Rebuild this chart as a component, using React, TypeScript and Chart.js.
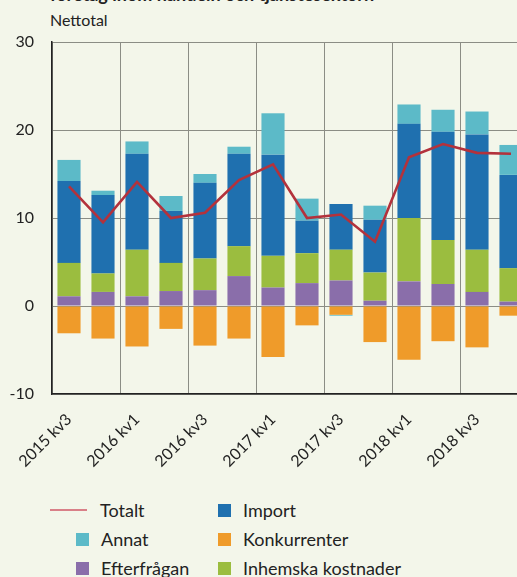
import React, { useEffect, useRef } from "react";
import { Chart, registerables } from "chart.js";

Chart.register(...registerables);

const categories = [
  "2015 kv3", "2015 kv4", "2016 kv1", "2016 kv2", "2016 kv3", "2016 kv4", "2017 kv1",
  "2017 kv2", "2017 kv3", "2017 kv4", "2018 kv1", "2018 kv2", "2018 kv3", "2018 kv4",
];
const efterfragan = [1.1, 1.6, 1.1, 1.7, 1.8, 3.4, 2.1, 2.6, 2.9, 0.6, 2.8, 2.5, 1.6, 0.5];
const inhemskaKostnader = [3.8, 2.1, 5.3, 3.2, 3.6, 3.4, 3.6, 3.4, 3.5, 3.2, 7.2, 5.0, 4.8, 3.8];
const importValues = [9.3, 8.9, 10.9, 5.9, 8.6, 10.5, 11.5, 3.7, 5.2, 6.0, 10.7, 12.3, 13.1, 10.6];
const konkurrenter = [-3.1, -3.7, -4.6, -2.6, -4.5, -3.7, -5.8, -2.2, -1.0, -4.1, -6.1, -4.0, -4.7, -1.1];
const annat = [2.4, 0.5, 1.4, 1.7, 1.0, 0.8, 4.7, 2.5, -0.1, 1.6, 2.2, 2.5, 2.6, 3.4];
const totalt = [13.6, 9.5, 14.1, 10.0, 10.6, 14.3, 16.1, 10.0, 10.4, 7.3, 16.9, 18.4, 17.4, 17.3];

const yMin = -10;
const yMax = 30;
const yStep = 10;

const BG = "#f3f6ea";
const C_PURPLE = "#8a6eaa";
const C_GREEN = "#9bbd3f";
const C_BLUE = "#1f70af";
const C_ORANGE = "#ef9b2a";
const C_CYAN = "#5cbac8";
const C_RED = "#b3323c";
const GRID = "#8b8d85";
const FONT = "Lato";

const legendItems = [
  { label: "Totalt", color: "#d98088", line: true, x: 50, y: 504 },
  { label: "Import", color: C_BLUE, line: false, x: 218, y: 504 },
  { label: "Annat", color: C_CYAN, line: false, x: 76, y: 533 },
  { label: "Konkurrenter", color: C_ORANGE, line: false, x: 218, y: 533 },
  { label: "Efterfrågan", color: C_PURPLE, line: false, x: 76, y: 562 },
  { label: "Inhemska kostnader", color: C_GREEN, line: false, x: 218, y: 562 },
];

export default function App() {
  const canvasRef = useRef<HTMLCanvasElement | null>(null);

  useEffect(() => {
    const canvas = canvasRef.current;
    if (!canvas) return;
    Chart.defaults.font.family = FONT;
    Chart.defaults.color = "#222";
    const barCommon = {
      type: "bar" as const,
      stack: "bars",
      barPercentage: 0.68,
      categoryPercentage: 1.0,
      borderWidth: 0,
      order: 2,
    };
    const chart = new Chart(canvas, {
      type: "bar",
      data: {
        labels: categories,
        datasets: [
          {
            type: "line" as const,
            label: "Totalt",
            data: totalt,
            borderColor: C_RED,
            backgroundColor: C_RED,
            borderWidth: 2.6,
            pointRadius: 0,
            tension: 0,
            stack: "line",
            order: 0,
          } as any,
          { ...barCommon, label: "Efterfrågan", data: efterfragan, backgroundColor: C_PURPLE },
          { ...barCommon, label: "Inhemska kostnader", data: inhemskaKostnader, backgroundColor: C_GREEN },
          { ...barCommon, label: "Import", data: importValues, backgroundColor: C_BLUE },
          { ...barCommon, label: "Konkurrenter", data: konkurrenter, backgroundColor: C_ORANGE },
          { ...barCommon, label: "Annat", data: annat, backgroundColor: C_CYAN },
        ],
      },
      options: {
        animation: false,
        responsive: false,
        maintainAspectRatio: false,
        layout: { padding: { top: 42, right: 32, left: 0, bottom: 0 } },
        plugins: {
          legend: { display: false },
          title: { display: false },
          tooltip: { enabled: false },
        },
        scales: {
          x: {
            stacked: true,
            offset: true,
            grid: {
              offset: true,
              drawTicks: false,
              color: (ctx: any) => (ctx.index % 2 === 0 ? GRID : "rgba(0,0,0,0)"),
              lineWidth: 1,
            },
            border: { display: true, color: "#222", width: 1.5 },
            ticks: {
              autoSkip: false,
              maxRotation: 45,
              minRotation: 45,
              padding: 16,
              font: { size: 16, family: FONT },
              color: "#222",
              callback: (_v: any, i: number) => (i % 2 === 0 ? categories[i] : ""),
            },
            afterFit: (scale: any) => {
              scale.height = 86;
            },
          },
          y: {
            stacked: true,
            min: yMin,
            max: yMax,
            grid: { color: GRID, lineWidth: 1, drawTicks: false },
            border: { display: true, color: "#222", width: 1.5 },
            ticks: {
              stepSize: yStep,
              padding: 18,
              font: { size: 16, family: FONT },
              color: "#222",
            },
            afterFit: (scale: any) => {
              scale.width = 52;
            },
          },
        },
      },
    });
    return () => chart.destroy();
  }, []);

  return (
    <div
      style={{
        position: "fixed",
        left: 0,
        top: 0,
        width: 517,
        height: 577,
        overflow: "hidden",
        background: BG,
        fontFamily: FONT,
        color: "#222",
      }}
    >
      <div
        style={{
          position: "absolute",
          left: 50,
          top: -15,
          fontSize: 18,
          lineHeight: "18px",
          fontWeight: 700,
          whiteSpace: "nowrap",
        }}
      >
        företag inom handeln och tjänstesektorn
      </div>
      <div
        style={{
          position: "absolute",
          left: 50,
          top: 12,
          fontSize: 16,
          lineHeight: "16px",
          whiteSpace: "nowrap",
        }}
      >
        Nettotal
      </div>
      <canvas
        ref={canvasRef}
        width={560}
        height={480}
        style={{ position: "absolute", left: 0, top: 0, width: 560, height: 480 }}
      />
      {legendItems.map((it) => (
        <div key={it.label}>
          {it.line ? (
            <div
              style={{
                position: "absolute",
                left: it.x,
                top: it.y + 5,
                width: 37,
                height: 2,
                background: it.color,
              }}
            />
          ) : (
            <div
              style={{
                position: "absolute",
                left: it.x,
                top: it.y,
                width: 13,
                height: 13,
                background: it.color,
              }}
            />
          )}
          <div
            style={{
              position: "absolute",
              left: it.line ? 100 : it.x + 25,
              top: it.y - 4,
              fontSize: 18,
              lineHeight: "20px",
              whiteSpace: "nowrap",
            }}
          >
            {it.label}
          </div>
        </div>
      ))}
    </div>
  );
}
